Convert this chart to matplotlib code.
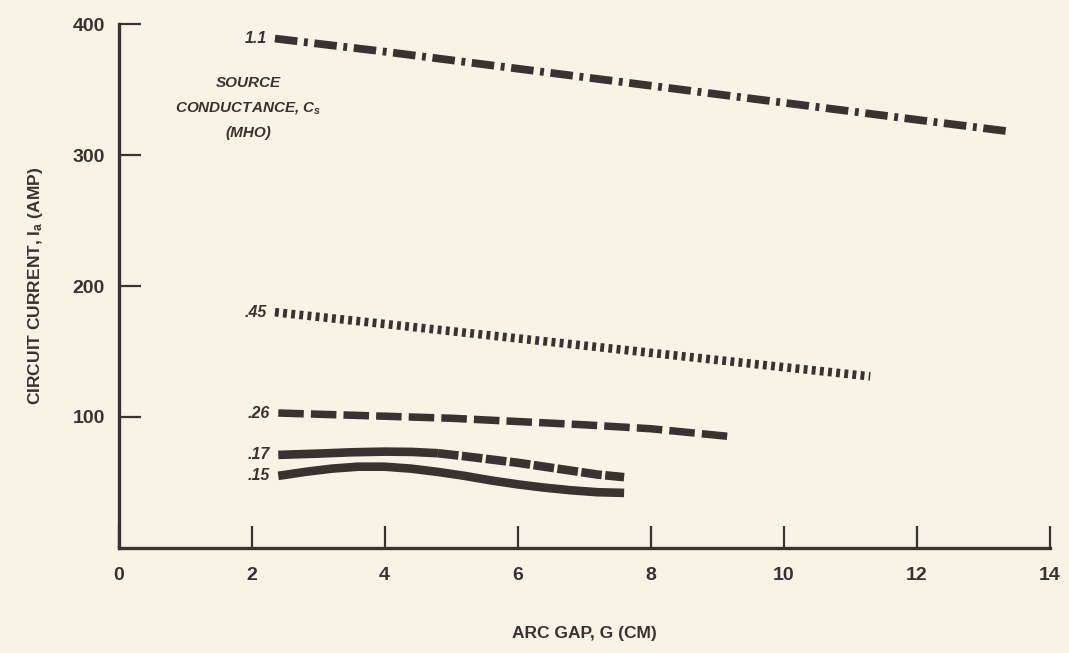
import matplotlib
matplotlib.use("Agg")
import matplotlib.pyplot as plt

plt.rcParams['font.family'] = ['Liberation Sans', 'DejaVu Sans']
plt.rcParams['mathtext.fontset'] = 'custom'
plt.rcParams['mathtext.rm'] = 'Liberation Sans:bold'
plt.rcParams['mathtext.it'] = 'Liberation Sans:italic:bold'
plt.rcParams['mathtext.bf'] = 'Liberation Sans:bold'

# values: arc gap (cm) vs circuit current (A)
gap_11 = [2.35, 4, 6, 8, 10, 12, 13.4]
amp_11 = [389, 379, 366, 353, 340, 327, 318]

gap_45 = [2.35, 4, 6, 8, 10, 11.3]
amp_45 = [180, 171, 160, 149, 138, 131]

gap_26 = [2.4, 5, 7, 8, 9.2]
amp_26 = [103, 99, 94, 91, 85]

gap_17 = [2.4, 3, 3.5, 4, 4.4, 4.8, 5.2, 5.6, 6, 6.4, 6.8, 7.2, 7.6]
amp_17 = [71, 72, 73, 73.5, 73.3, 72.3, 70, 67.5, 65, 62, 59, 56, 54]

gap_15 = [2.4, 2.8, 3.2, 3.6, 4.0, 4.4, 4.8, 5.2, 5.6, 6.0, 6.4, 6.8, 7.2, 7.6]
amp_15 = [55, 58, 60.5, 62, 62, 60.5, 58, 55, 51.5, 48.5, 46, 44, 42.5, 42]

labels = ['1.1', '.45', '.26', '.17', '.15']
x_ticks = [0, 2, 4, 6, 8, 10, 12, 14]
y_ticks = [100, 200, 300, 400]

bg = '#f7f4e6'
ink = '#3a3131'

fig = plt.figure(figsize=(10.69, 6.53), dpi=100, facecolor=bg)
ax = fig.add_axes([0.111, 0.161, 0.871, 0.802], facecolor=bg)

ax.plot(gap_11, amp_11, color=ink, lw=5.6, solid_capstyle='butt', dash_capstyle='butt',
        linestyle=(0, (2.9, 0.85, 0.5, 0.85)))
ax.plot(gap_45, amp_45, color=ink, lw=6.2, dash_capstyle='butt',
        linestyle=(0, (0.45, 0.5)))
ax.plot(gap_26, amp_26, color=ink, lw=5.4, dash_capstyle='butt',
        linestyle=(0, (3.4, 0.95)))
split = 5
ax.plot(gap_17[:split + 1], amp_17[:split + 1], color=ink, lw=6.2, solid_capstyle='butt')
ax.plot(gap_17[split:], amp_17[split:], color=ink, lw=6.2, dash_capstyle='butt',
        linestyle=(0, (2.4, 0.4)))
ax.plot(gap_15, amp_15, color=ink, lw=6.2, solid_capstyle='butt')

starts = [(gap_11[0], amp_11[0]), (gap_45[0], amp_45[0]), (gap_26[0], amp_26[0]),
          (gap_17[0], amp_17[0]), (gap_15[0], amp_15[0])]
for lab, (sx, sy) in zip(labels, starts):
    ax.text(sx - 0.12, sy, lab, ha='right', va='center', fontsize=11.5,
            fontweight='bold', style='italic', color=ink)

ax.text(1.95, 355, 'SOURCE', ha='center', va='center', fontsize=11,
        fontweight='bold', style='italic', color=ink)
ax.text(1.95, 336, 'CONDUCTANCE, $C_s$', ha='center', va='center', fontsize=11,
        fontweight='bold', style='italic', color=ink)
ax.text(1.95, 317, '(MHO)', ha='center', va='center', fontsize=11,
        fontweight='bold', style='italic', color=ink)

ax.set_xlim(0, 14)
ax.set_ylim(0, 400)
ax.set_xticks(x_ticks)
ax.set_yticks(y_ticks)
ax.set_xticklabels([str(t) for t in x_ticks])
ax.set_yticklabels([str(t) for t in y_ticks])

for s in ['top', 'right']:
    ax.spines[s].set_visible(False)
for s in ['left', 'bottom']:
    ax.spines[s].set_linewidth(2.4)
    ax.spines[s].set_color(ink)

ax.tick_params(axis='both', direction='in', length=16, width=1.6, color=ink,
               labelsize=14, labelcolor=ink)
ax.tick_params(axis='x', pad=14)
ax.tick_params(axis='y', pad=10)
for t in ax.get_xticklabels() + ax.get_yticklabels():
    t.set_fontweight('bold')

ax.set_xlabel('ARC GAP, G (CM)', fontsize=12.5, fontweight='bold', color=ink, labelpad=30)
ax.set_ylabel(r'CIRCUIT CURRENT, $\mathrm{I_a}$ (AMP)', fontsize=12.5, fontweight='bold',
              color=ink, labelpad=20)

fig.savefig('out.png', dpi=100, facecolor=bg)
